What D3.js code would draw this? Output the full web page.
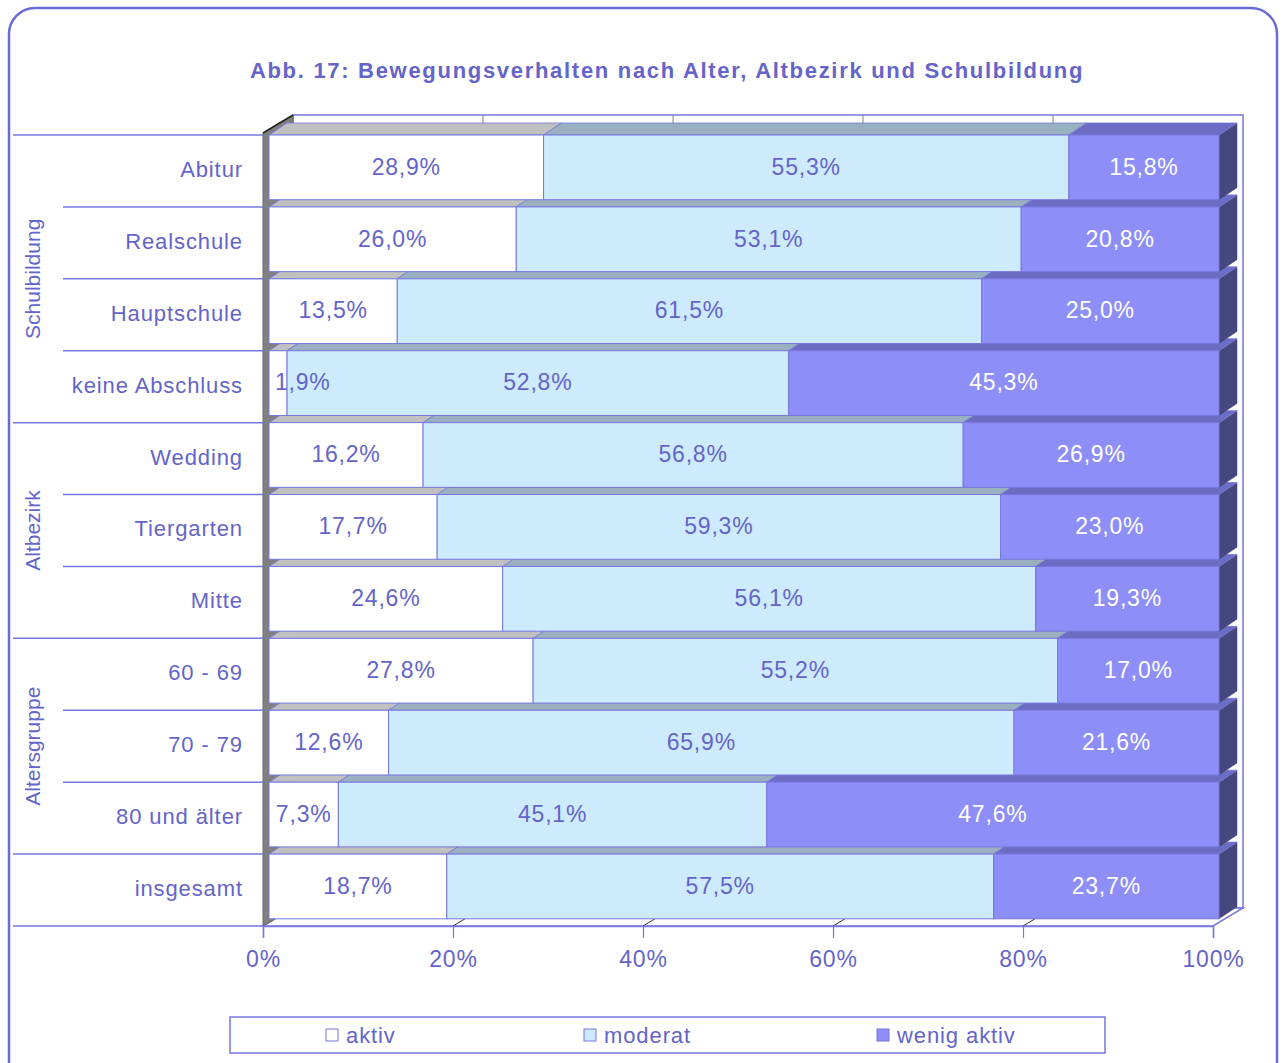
<!DOCTYPE html>
<html>
<head>
<meta charset="utf-8">
<script src="https://cdn.jsdelivr.net/npm/d3@7"></script>
<style>
  body { margin: 0; background: #fff; }
  svg text { font-family: "Liberation Sans", Arial, sans-serif; fill: #6464ca; }
</style>
</head>
<body>
<svg id="chart" width="1282" height="1063"></svg>
<script>
// data
const categories = ["Abitur", "Realschule", "Hauptschule", "keine Abschluss",
  "Wedding", "Tiergarten", "Mitte", "60 - 69", "70 - 79", "80 und älter", "insgesamt"];
const aktiv   = [28.9, 26.0, 13.5, 1.9, 16.2, 17.7, 24.6, 27.8, 12.6, 7.3, 18.7];
const moderat = [55.3, 53.1, 61.5, 52.8, 56.8, 59.3, 56.1, 55.2, 65.9, 45.1, 57.5];
const wenig   = [15.8, 20.8, 25.0, 45.3, 26.9, 23.0, 19.3, 17.0, 21.6, 47.6, 23.7];
const seriesNames = ["aktiv", "moderat", "wenig aktiv"];
const groupNames = ["Schulbildung", "Altbezirk", "Altersgruppe"];
const groupSizes = [4, 3, 3];
const tickValues = [0, 20, 40, 60, 80, 100];

const title = "Abb. 17: Bewegungsverhalten nach Alter, Altbezirk und Schulbildung";

const frontCol = ["#ffffff", "#cdebfd", "#8d8ef8"];
const topCol   = ["#c0c0c0", "#98b0c0", "#6c6cc2"];
const sideCol  = ["#9a9a9a", "#7890a0", "#47477f"];
const labelCol = ["#6464ca", "#6464ca", "#ffffff"];
const lineColor = "#7777dd";

const svg = d3.select("#chart");

// outer frame
svg.append("rect")
    .attr("x", 9).attr("y", 8)
    .attr("width", 1268).attr("height", 1090)
    .attr("rx", 26)
    .attr("fill", "#fff")
    .attr("stroke", "#6b6bd6")
    .attr("stroke-width", 2.5);

svg.append("text")
    .attr("x", 667).attr("y", 78)
    .attr("text-anchor", "middle")
    .style("font-size", "22px")
    .style("font-weight", "bold")
    .style("letter-spacing", "1.7px")
    .text(title);

// geometry of the 3d plot
const floorLeft = 263, floorRight = 1213;
const plotTop = 135, plotBottom = 926;
const wallDx = 30, wallDy = -18;   // full depth
const barOff = 6;                  // bar front sits a bit behind floor front
const barDx = 18, barDy = -12;     // bar depth

const xFloor = d3.scaleLinear().domain([0, 100]).range([floorLeft, floorRight]);
const xBar = d3.scaleLinear().domain([0, 100]).range([floorLeft + barOff, floorRight + barOff]);
const y = d3.scaleBand().domain(categories).range([plotTop, plotBottom]).paddingInner(0);

const poly = pts => pts.map(p => p.join(",")).join(" ");

// back wall
svg.append("polygon")
    .attr("points", poly([
      [floorLeft + wallDx, plotTop - 2 + wallDy], [floorRight + wallDx, plotTop - 2 + wallDy],
      [floorRight + wallDx, plotBottom + wallDy], [floorLeft + wallDx, plotBottom + wallDy]]))
    .attr("fill", "#fff").attr("stroke", lineColor).attr("stroke-width", 1.5);

svg.append("g").selectAll("line").data(tickValues.slice(1, -1)).join("line")
    .attr("x1", d => xFloor(d) + wallDx).attr("x2", d => xFloor(d) + wallDx)
    .attr("y1", plotTop - 2 + wallDy).attr("y2", plotBottom + wallDy)
    .attr("stroke", "#808080").attr("stroke-width", 1);

// floor
svg.append("polygon")
    .attr("points", poly([
      [floorLeft, plotBottom], [floorRight, plotBottom],
      [floorRight + wallDx, plotBottom + wallDy], [floorLeft + wallDx, plotBottom + wallDy]]))
    .attr("fill", "#fff").attr("stroke", lineColor).attr("stroke-width", 1.5);

svg.append("g").selectAll("line").data(tickValues.slice(1, -1)).join("line")
    .attr("x1", d => xFloor(d)).attr("x2", d => xFloor(d) + wallDx)
    .attr("y1", plotBottom).attr("y2", plotBottom + wallDy)
    .attr("stroke", "#333").attr("stroke-width", 1);

// left wall
svg.append("polygon")
    .attr("points", poly([
      [floorLeft, plotTop - 2], [floorLeft + wallDx, plotTop - 2 + wallDy],
      [floorLeft + wallDx, plotBottom + wallDy], [floorLeft, plotBottom]]))
    .attr("fill", "#808080").attr("stroke", "#6a6a6a").attr("stroke-width", 1);
svg.append("line")
    .attr("x1", floorLeft).attr("y1", plotTop - 2)
    .attr("x2", floorLeft + wallDx).attr("y2", plotTop - 2 + wallDy)
    .attr("stroke", "#222").attr("stroke-width", 1.5);

// stacked rows (normalised to 100%), drawn bottom row first
const rows = categories.map((c, i) => {
  const vals = [aktiv[i], moderat[i], wenig[i]];
  const total = d3.sum(vals);
  let acc = 0;
  return {
    cat: c,
    segs: vals.map((v, j) => {
      const s = { j, v, x0: acc / total * 100, x1: (acc + v) / total * 100 };
      acc += v;
      return s;
    })
  };
});

const barH = y.bandwidth() * 0.9;
const fmt = v => d3.format(".1f")(v).replace(".", ",") + "%";

const rowG = svg.append("g").selectAll("g").data(rows.slice().reverse()).join("g");

rowG.each(function (r) {
  const g = d3.select(this);
  const yT = y(r.cat), yB = yT + barH;
  r.segs.forEach((s, k) => {
    const a = xBar(s.x0), b = xBar(s.x1);
    if (k === r.segs.length - 1) {
      g.append("polygon")
          .attr("points", poly([[b, yT], [b + barDx, yT + barDy], [b + barDx, yB + barDy], [b, yB]]))
          .attr("fill", sideCol[s.j]).attr("stroke", sideCol[s.j]).attr("stroke-width", 0.5);
    }
    g.append("polygon")
        .attr("points", poly([[a, yT], [b, yT], [b + barDx, yT + barDy], [a + barDx, yT + barDy]]))
        .attr("fill", topCol[s.j]).attr("stroke", lineColor).attr("stroke-width", 0.8);
    g.append("rect")
        .attr("x", a).attr("y", yT)
        .attr("width", b - a).attr("height", barH)
        .attr("fill", frontCol[s.j]).attr("stroke", lineColor).attr("stroke-width", 1);
  });
});

// data labels on top of everything
rows.forEach(r => {
  const yT = y(r.cat);
  r.segs.forEach(s => {
    const a = xBar(s.x0), b = xBar(s.x1);
    const t = svg.append("text")
        .attr("y", yT + barH / 2 - 1)
        .attr("dy", "0.36em")
        .attr("text-anchor", "middle")
        .style("font-size", "23px")
        .style("letter-spacing", "0.8px")
        .style("fill", labelCol[s.j])
        .text(fmt(s.v));
    const w = t.node().getComputedTextLength();
    t.attr("x", Math.max((a + b) / 2, a + w / 2 + 6));
  });
});

// category labels and separator lines on the left
svg.append("g").selectAll("text").data(categories).join("text")
    .attr("x", 243)
    .attr("y", d => y(d) + y.bandwidth() / 2 - 2)
    .attr("dy", "0.36em")
    .attr("text-anchor", "end")
    .style("font-size", "22px")
    .style("letter-spacing", "0.9px")
    .text(d => d);

const groupStarts = d3.cumsum([0].concat(groupSizes));
const boundaries = d3.range(categories.length + 1);
svg.append("g").selectAll("line").data(boundaries).join("line")
    .attr("x1", i => groupStarts.includes(i) || i >= groupStarts[groupStarts.length - 1] ? 13 : 63)
    .attr("x2", floorLeft)
    .attr("y1", i => i < categories.length ? y(categories[i]) : plotBottom)
    .attr("y2", i => i < categories.length ? y(categories[i]) : plotBottom)
    .attr("stroke", lineColor).attr("stroke-width", 1.5);

svg.append("g").selectAll("text").data(groupNames).join("text")
    .attr("transform", (d, i) => {
      const cy = (y(categories[groupStarts[i]]) + y(categories[groupStarts[i + 1] - 1]) + y.bandwidth()) / 2;
      return `translate(32,${cy}) rotate(-90)`;
    })
    .attr("dy", "0.36em")
    .attr("text-anchor", "middle")
    .style("font-size", "21px")
    .text(d => d);

// x axis
const xAxis = svg.append("g")
    .attr("transform", `translate(0,${plotBottom})`)
    .call(d3.axisBottom(xFloor).tickValues(tickValues).tickFormat(d => d + "%")
      .tickSize(12).tickPadding(13));
xAxis.select(".domain").attr("stroke", lineColor).attr("stroke-width", 1.5);
xAxis.selectAll(".tick line").attr("stroke", lineColor).attr("stroke-width", 1.2);
xAxis.selectAll(".tick text")
    .style("font-size", "23px")
    .style("letter-spacing", "0.8px")
    .attr("fill", "#6464ca");

// legend
const legend = svg.append("g");
legend.append("rect")
    .attr("x", 230).attr("y", 1017).attr("width", 875).attr("height", 36)
    .attr("fill", "#fff").attr("stroke", lineColor).attr("stroke-width", 1.5);
const legendX = [326, 584, 877];
const item = legend.selectAll("g.item").data(seriesNames).join("g")
    .attr("class", "item")
    .attr("transform", (d, i) => `translate(${legendX[i]},1035)`);
item.append("rect")
    .attr("x", 0).attr("y", -6).attr("width", 12).attr("height", 12)
    .attr("fill", (d, i) => frontCol[i]).attr("stroke", lineColor).attr("stroke-width", 1);
item.append("text")
    .attr("x", 20).attr("dy", "0.36em")
    .style("font-size", "22px")
    .style("letter-spacing", "0.9px")
    .text(d => d);
</script>
</body>
</html>
